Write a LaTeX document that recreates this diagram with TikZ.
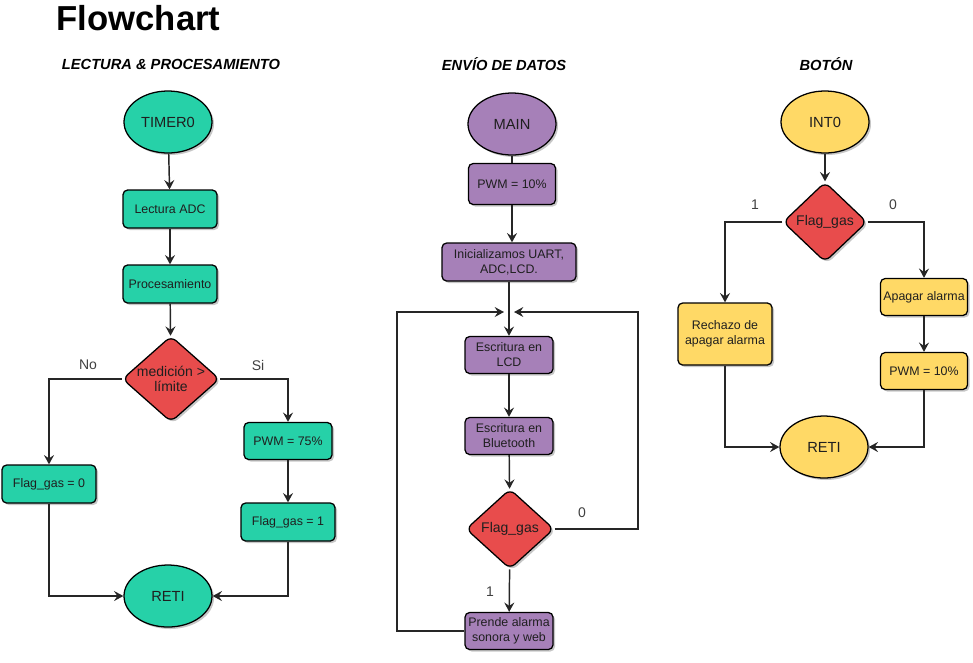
\documentclass[tikz,border=0pt]{standalone}
\usepackage{fontspec}
\setmainfont{Liberation Sans}
\usetikzlibrary{shapes.geometric,arrows.meta,shadows}
\definecolor{tealf}{HTML}{26D1A8}
\definecolor{redf}{HTML}{E84C4C}
\definecolor{purplef}{HTML}{A680B8}
\definecolor{yellowf}{HTML}{FFD966}
\begin{document}
\begin{tikzpicture}[x=0.75pt,y=-0.75pt,
  every node/.style={text=black!88},
  shad/.style={drop shadow={shadow xshift=1.5pt,shadow yshift=-1.5pt,opacity=0.22,fill=black}},
  procbox/.style={rectangle,draw=black,line width=0.95pt,rounded corners=3.5pt,inner sep=1pt,align=center,font=\fontsize{9.3}{11.2}\selectfont,shad},
  term/.style={ellipse,draw=black,line width=0.95pt,inner sep=0pt,minimum width=66pt,minimum height=46.5pt,font=\fontsize{11}{13}\selectfont,shad},
  decision/.style={diamond,draw=black,line width=0.95pt,rounded corners=5pt,inner sep=0pt,fill=redf,align=center,font=\fontsize{10.5}{11.5}\selectfont,shad},
  flow/.style={draw=black!85,line width=1.1pt,-{Stealth[length=7pt,width=7.5pt,inset=2.5pt]}},
  plain/.style={draw=black!85,line width=1.1pt},
  lbl/.style={font=\fontsize{10.5}{12}\selectfont,text=black!75},
  subtitle/.style={font=\fontsize{11}{13}\selectfont\bfseries\itshape,text=black}]
\useasboundingbox (0,0) rectangle (973,662);

% titles
\node[anchor=west,font=\fontsize{26}{30}\selectfont\bfseries,text=black] (title) at (52,18) {Flowchart};
\node[subtitle] (st1) at (171,64) {LECTURA \& PROCESAMIENTO};
\node[subtitle] (st2) at (504,64) {ENVÍO DE DATOS};
\node[subtitle] (st3) at (826,64) {BOTÓN};

% column 1
\node[term,fill=tealf] (timer) at (168,122) {TIMER0};
\node[procbox,fill=tealf,minimum width=70.5pt,minimum height=28.5pt] (lect) at (170,209) {Lectura ADC};
\node[procbox,fill=tealf,minimum width=70.5pt,minimum height=28.5pt] (proc) at (170,284) {Procesamiento};
\node[decision,aspect=1.13,minimum width=69.75pt,minimum height=61.5pt] (d1) at (171,379) {medición >\\límite};
\node[procbox,fill=tealf,minimum width=70.5pt,minimum height=28.5pt] (flag0) at (49,484) {Flag\_gas = 0};
\node[procbox,fill=tealf,minimum width=66pt,minimum height=27.75pt] (pwm75) at (288,441) {PWM = 75\%};
\node[procbox,fill=tealf,minimum width=70.5pt,minimum height=28.5pt] (flag1) at (288,522) {Flag\_gas = 1};
\node[term,fill=tealf] (reti1) at (168,596) {RETI};

\draw[flow] (timer) -- (lect);
\draw[flow] (lect) -- (proc);
\draw[flow] (proc) -- (d1);
\draw[flow] (d1.west) -| (flag0.north);
\draw[flow] (d1.east) -| (pwm75.north);
\draw[flow] (pwm75) -- (flag1);
\draw[flow] (flag0.south) |- (reti1.west);
\draw[flow] (flag1.south) |- (reti1.east);
\node[lbl] (lno) at (88,365) {No};
\node[lbl] (lsi) at (258,365) {Si};

% column 2
\node[term,fill=purplef] (main) at (512,124) {MAIN};
\node[procbox,fill=purplef,minimum width=65.25pt,minimum height=30.75pt] (pwm10a) at (512,184) {PWM = 10\%};
\node[procbox,fill=purplef,minimum width=100.5pt,minimum height=28.5pt] (init) at (509,262) {Inicializamos UART,\\ADC,LCD.};
\node[procbox,fill=purplef,minimum width=66pt,minimum height=27.75pt] (lcd) at (509,355) {Escritura en\\LCD};
\node[procbox,fill=purplef,minimum width=66pt,minimum height=27.75pt] (bt) at (509,436) {Escritura en\\Bluetooth};
\node[decision,aspect=1.1,minimum width=66pt,minimum height=60pt] (d2) at (510,529) {Flag\_gas};
\node[procbox,fill=purplef,minimum width=66pt,minimum height=27.75pt] (prende) at (509,631) {Prende alarma\\sonora y web};
\coordinate (jl) at (504,312);
\coordinate (jr) at (514,312);
\coordinate (cornL) at (397,312);
\coordinate (cornR) at (638,312);

\draw[plain] (main) -- (pwm10a);
\draw[flow] (pwm10a.south) -- (pwm10a.south |- init.north);
\draw[flow] (init) -- (lcd);
\draw[flow] (lcd) -- (bt);
\draw[flow] (bt) -- (d2);
\draw[flow] (d2) -- (prende);
\draw[flow] (prende.west) -| (cornL) -- (jl);
\draw[flow] (d2.east) -| (cornR) -- (jr);
\node[lbl] (l20) at (582,513) {0};
\node[lbl] (l21) at (490,592) {1};

% column 3
\node[term,fill=yellowf] (int0) at (825,122) {INT0};
\node[decision,aspect=1.05,minimum width=63pt,minimum height=60pt] (d3) at (825,222) {Flag\_gas};
\node[procbox,fill=yellowf,minimum width=70.5pt,minimum height=46.5pt] (rech) at (725,334) {Rechazo de\\apagar alarma};
\node[procbox,fill=yellowf,minimum width=65.25pt,minimum height=27.75pt] (apag) at (924,297) {Apagar alarma};
\node[procbox,fill=yellowf,minimum width=65.25pt,minimum height=27.75pt] (pwm10b) at (924,371) {PWM = 10\%};
\node[term,fill=yellowf] (reti3) at (824,447) {RETI};

\draw[flow] (int0) -- (d3);
\draw[flow] (d3.west) -| (rech.north);
\draw[flow] (d3.east) -| (apag.north);
\draw[flow] (apag) -- (pwm10b);
\draw[flow] (rech.south) |- (reti3.west);
\draw[flow] (pwm10b.south) |- (reti3.east);
\node[lbl] (l31) at (755,205) {1};
\node[lbl] (l30) at (893,205) {0};
\end{tikzpicture}
\end{document}
